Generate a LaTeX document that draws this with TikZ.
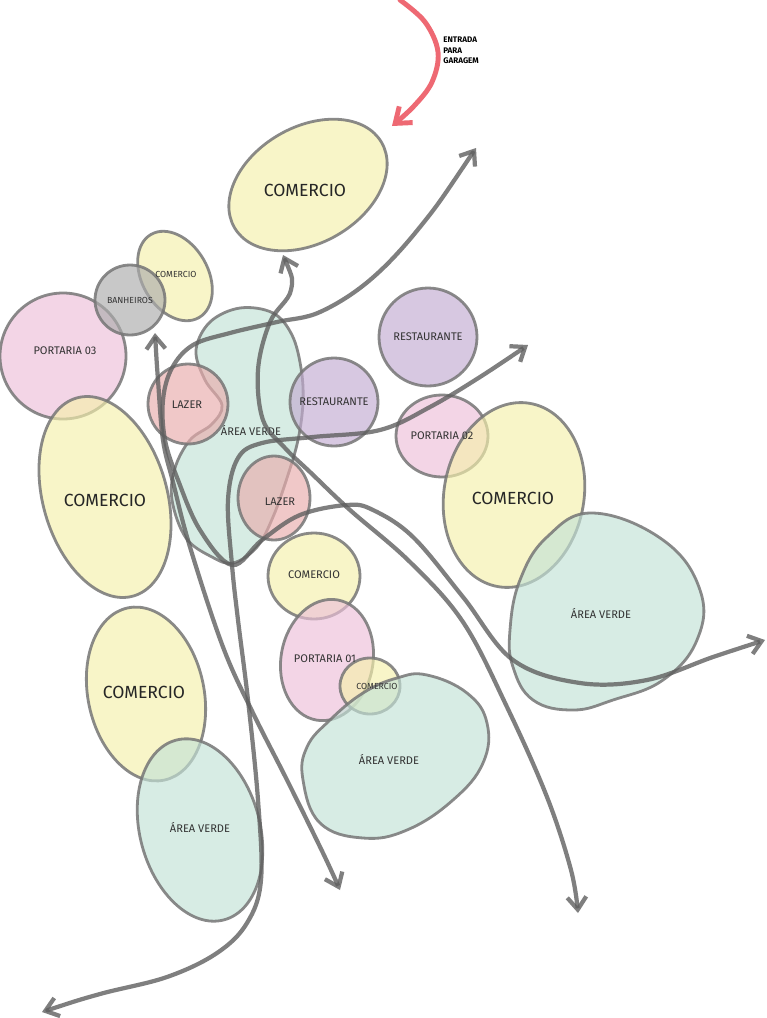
\documentclass[tikz,border=0pt]{standalone}
\usepackage{fontspec}
\setmainfont{Fira Sans}
\usetikzlibrary{arrows.meta}
\definecolor{ComYellow}{RGB}{245,240,171}
\definecolor{PortPink}{RGB}{237,192,217}
\definecolor{LazerRose}{RGB}{233,172,172}
\definecolor{VerdeMint}{RGB}{195,226,214}
\definecolor{RestLilac}{RGB}{194,171,209}
\definecolor{BanhGray}{RGB}{172,172,172}
\definecolor{EdgeGray}{RGB}{118,118,118}
\definecolor{FlowGray}{RGB}{95,95,95}
\definecolor{EntryRed}{RGB}{238,105,115}

\begin{document}
\begin{tikzpicture}[x=0.02cm,y=-0.02cm,
    bubble/.style={draw=EdgeGray,line width=1.6pt,fill opacity=.65,draw opacity=.85},
    flow/.style={draw=FlowGray,line width=2.4pt,draw opacity=.8,line cap=round,
      arrows={Straight Barb[length=2.5mm,width=3.8mm]-Straight Barb[length=2.5mm,width=3.8mm]}},
    lbig/.style={font=\fontsize{10}{12}\selectfont,text=black!85},
    lmid/.style={font=\fontsize{6.3}{7.5}\selectfont,text=black!80},
    lsmall/.style={font=\fontsize{5}{6}\selectfont,text=black!80}
  ]
    \fill[white] (0,0) rectangle (767,1018);
    \useasboundingbox (0,0) rectangle (767,1018);

    % bubbles
    \draw[bubble,fill=ComYellow,rotate around={30:(308,185)}] (308,185) ellipse [x radius=85,y radius=58];
    \draw[bubble,fill=ComYellow,rotate around={-60:(175,276)}] (175,276) ellipse [x radius=48,y radius=33];
    \draw[bubble,fill=PortPink] (63,356) circle [radius=63];
    \draw[bubble,fill=BanhGray] (130,300) circle [radius=35];
    \draw[bubble,fill=ComYellow,rotate around={-74:(105,497)}] (105,497) ellipse [x radius=103,y radius=62];
    \draw[bubble,fill=VerdeMint] plot[smooth cycle,tension=.6] coordinates {
      (240,308) (273,313) (292,335) (301,368) (303,402) (298,440) (287,478) (273,517)
      (257,547) (233,563) (212,557) (186,538) (172,500) (175,468) (190,440) (212,424)
      (222,405) (205,380) (196,350) (210,322)};
    \draw[bubble,fill=LazerRose] (188,404) circle [radius=40];
    \draw[bubble,fill=RestLilac] (334,402) circle [radius=44];
    \draw[bubble,fill=RestLilac] (428,337) circle [radius=49];
    \draw[bubble,fill=PortPink] (442,436) ellipse [x radius=46,y radius=41];
    \draw[bubble,fill=LazerRose] (274,498) ellipse [x radius=36,y radius=42];
    \draw[bubble,fill=ComYellow,rotate around={80:(514,495)}] (514,495) ellipse [x radius=93,y radius=70];
    \draw[bubble,fill=VerdeMint] plot[smooth cycle,tension=.7] coordinates {
      (593,513) (663,540) (700,590) (697,640) (663,680) (613,700) (573,710) (533,700)
      (513,667) (510,630) (520,580) (547,537)};
    \draw[bubble,fill=ComYellow] (314,576) ellipse [x radius=46,y radius=43];
    \draw[bubble,fill=PortPink,rotate around={80:(327,660)}] (327,660) ellipse [x radius=61,y radius=46];
    \draw[bubble,fill=ComYellow] (370,686) ellipse [x radius=30,y radius=28];
    \draw[bubble,fill=VerdeMint] plot[smooth cycle,tension=.7] coordinates {
      (427,675) (467,693) (487,723) (483,763) (453,800) (407,830) (363,838) (320,823)
      (303,780) (307,747) (330,720) (363,693) (397,678)};
    \draw[bubble,fill=ComYellow,rotate around={-78:(146,694)}] (146,694) ellipse [x radius=88,y radius=58];
    \draw[bubble,fill=VerdeMint,rotate around={-75:(200,830)}] (200,830) ellipse [x radius=93,y radius=60];

    % labels
    \node[lbig] (comTop) at (305,190) {COMERCIO};
    \node[lsmall] (comBanh) at (176,274) {COMERCIO};
    \node[lsmall] (banh) at (130,300) {BANHEIROS};
    \node[lmid] (port3) at (65,351) {PORTARIA 03};
    \node[lbig] (comLeft) at (105,500) {COMERCIO};
    \node[lmid] (lazerA) at (187,405) {LAZER};
    \node[lmid] (verdeMid) at (251,430) {ÁREA VERDE};
    \node[lmid] (restA) at (334,402) {RESTAURANTE};
    \node[lmid] (restB) at (428,337) {RESTAURANTE};
    \node[lmid] (port2) at (442,436) {PORTARIA 02};
    \node[lmid] (lazerB) at (280,502) {LAZER};
    \node[lbig] (comRight) at (513,498) {COMERCIO};
    \node[lmid] (comMid) at (314,575) {COMERCIO};
    \node[lmid] (verdeRight) at (601,613) {ÁREA VERDE};
    \node[lmid] (port1) at (325,659) {PORTARIA 01};
    \node[lsmall] (comTiny) at (377,686) {COMERCIO};
    \node[lmid] (verdeLow) at (389,759) {ÁREA VERDE};
    \node[lbig] (comLow) at (144,692) {COMERCIO};
    \node[lmid] (verdeLeft) at (200,827) {ÁREA VERDE};
    \node[font=\fontsize{4.6}{5.8}\selectfont\bfseries,align=left,anchor=north west,inner sep=0pt]
      (entrada) at (443,37) {ENTRADA\\PARA\\GARAGEM};

    % flows
    \coordinate (knot) at (232,565);
    \draw[flow] plot[smooth,tension=.6] coordinates {
      (283,255) (291,290) (270,322) (258,370) (263,420) (285,448) (310,472) (350,510)
      (410,562) (463,622) (507,707) (547,797) (571,870) (578,913)};
    \draw[flow] plot[smooth,tension=.6] coordinates {
      (155,333) (158,380) (163,440) (173,482) (190,547) (223,647) (253,713) (287,780)
      (323,853) (340,890)};
    \draw[flow] plot[smooth,tension=.6] coordinates {
      (476,148) (420,227) (370,280) (320,312) (277,322) (230,333) (193,345) (172,368)
      (163,400) (165,440) (178,480) (200,530) (knot) (262,540) (300,515) (347,505)
      (373,510) (413,537) (463,597) (513,660) (580,683) (647,680) (713,657) (765,640)};
    \draw[flow] plot[smooth,tension=.6] coordinates {
      (42,1012) (100,994) (167,977) (217,953) (247,923) (261,880) (258,800) (248,700)
      (238,620) (knot) (228,500) (238,458) (262,443) (313,437) (380,430) (430,407)
      (480,377) (528,345)};
    \draw[EntryRed,line width=2.8pt,line cap=round,-{Straight Barb[length=2.8mm,width=4.2mm]}]
      plot[smooth,tension=.6] coordinates {(400,0) (425,22) (438,52) (432,82) (414,106) (392,126)};
\end{tikzpicture}
\end{document}
